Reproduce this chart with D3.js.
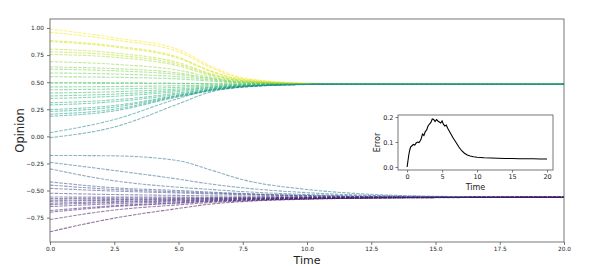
<!DOCTYPE html>
<html>
<head>
<meta charset="utf-8">
<script src="https://cdn.jsdelivr.net/npm/d3@7"></script>
<style>
  body { margin: 0; background: #fff; }
  text { font-family: "DejaVu Sans", sans-serif; fill: #222; }
  .axis path, .axis line { stroke: #555; stroke-width: 0.8; }
  .axis text { font-size: 5.8px; }
</style>
</head>
<body>
<svg id="chart" width="598" height="266"></svg>
<script>
'use strict';

// sample times for every trajectory
let times = [0, 2.5, 5, 6.25, 7.5, 10, 12.5, 15, 20];

// opinions that end up near +0.48
let upperGroup = [
  [0.99, 0.91, 0.80, 0.65, 0.54, 0.49, 0.482, 0.481, 0.481],
  [0.96, 0.89, 0.78, 0.635, 0.535, 0.489, 0.482, 0.481, 0.481],
  [0.885, 0.835, 0.73, 0.605, 0.525, 0.487, 0.482, 0.481, 0.481],
  [0.875, 0.825, 0.72, 0.60, 0.522, 0.487, 0.482, 0.481, 0.481],
  [0.805, 0.77, 0.68, 0.58, 0.515, 0.486, 0.482, 0.481, 0.481],
  [0.78, 0.75, 0.665, 0.572, 0.512, 0.485, 0.482, 0.481, 0.481],
  [0.756, 0.73, 0.65, 0.563, 0.51, 0.485, 0.482, 0.481, 0.481],
  [0.69, 0.665, 0.61, 0.548, 0.504, 0.484, 0.481, 0.481, 0.481],
  [0.64, 0.625, 0.585, 0.537, 0.5, 0.483, 0.481, 0.481, 0.481],
  [0.62, 0.605, 0.57, 0.531, 0.497, 0.482, 0.481, 0.481, 0.481],
  [0.585, 0.575, 0.55, 0.521, 0.494, 0.482, 0.481, 0.481, 0.481],
  [0.55, 0.545, 0.53, 0.51, 0.49, 0.481, 0.481, 0.481, 0.481],
  [0.497, 0.495, 0.49, 0.486, 0.483, 0.481, 0.481, 0.481, 0.481],
  [0.49, 0.489, 0.487, 0.484, 0.482, 0.481, 0.481, 0.481, 0.481],
  [0.456, 0.46, 0.467, 0.473, 0.478, 0.481, 0.481, 0.481, 0.481],
  [0.43, 0.437, 0.452, 0.465, 0.474, 0.48, 0.481, 0.481, 0.481],
  [0.40, 0.412, 0.437, 0.457, 0.471, 0.48, 0.481, 0.481, 0.481],
  [0.373, 0.39, 0.425, 0.452, 0.469, 0.48, 0.481, 0.481, 0.481],
  [0.35, 0.37, 0.414, 0.447, 0.467, 0.48, 0.481, 0.481, 0.481],
  [0.31, 0.337, 0.40, 0.44, 0.464, 0.479, 0.481, 0.481, 0.481],
  [0.29, 0.32, 0.39, 0.436, 0.462, 0.479, 0.481, 0.481, 0.481],
  [0.247, 0.285, 0.38, 0.43, 0.46, 0.479, 0.481, 0.481, 0.481],
  [0.23, 0.27, 0.375, 0.427, 0.458, 0.479, 0.481, 0.481, 0.481],
  [0.204, 0.25, 0.37, 0.422, 0.456, 0.479, 0.481, 0.481, 0.481],
  [0.185, 0.235, 0.365, 0.419, 0.455, 0.479, 0.481, 0.481, 0.481],
  [0.034, 0.155, 0.35, 0.43, 0.462, 0.479, 0.481, 0.481, 0.481],
  [-0.012, 0.086, 0.30, 0.41, 0.455, 0.478, 0.481, 0.481, 0.481]
];

// opinions that end up near -0.56
let lowerGroup = [
  [-0.176, -0.18, -0.225, -0.31, -0.40, -0.49, -0.535, -0.553, -0.562],
  [-0.24, -0.315, -0.395, -0.44, -0.475, -0.52, -0.545, -0.556, -0.562],
  [-0.30, -0.41, -0.47, -0.49, -0.51, -0.537, -0.552, -0.559, -0.563],
  [-0.42, -0.475, -0.50, -0.515, -0.527, -0.546, -0.556, -0.561, -0.563],
  [-0.45, -0.49, -0.512, -0.523, -0.532, -0.549, -0.557, -0.561, -0.563],
  [-0.48, -0.505, -0.522, -0.53, -0.538, -0.551, -0.558, -0.562, -0.563],
  [-0.525, -0.537, -0.545, -0.549, -0.552, -0.557, -0.56, -0.562, -0.563],
  [-0.56, -0.561, -0.561, -0.562, -0.562, -0.563, -0.563, -0.563, -0.563],
  [-0.575, -0.572, -0.57, -0.568, -0.567, -0.565, -0.564, -0.563, -0.563],
  [-0.59, -0.583, -0.577, -0.573, -0.57, -0.567, -0.565, -0.564, -0.563],
  [-0.60, -0.59, -0.582, -0.577, -0.573, -0.568, -0.565, -0.564, -0.563],
  [-0.617, -0.602, -0.59, -0.583, -0.577, -0.57, -0.566, -0.564, -0.563],
  [-0.63, -0.61, -0.595, -0.587, -0.58, -0.571, -0.566, -0.564, -0.563],
  [-0.648, -0.622, -0.603, -0.592, -0.584, -0.573, -0.567, -0.564, -0.563],
  [-0.685, -0.64, -0.612, -0.598, -0.588, -0.575, -0.568, -0.565, -0.563],
  [-0.70, -0.648, -0.617, -0.601, -0.59, -0.576, -0.568, -0.565, -0.563],
  [-0.768, -0.68, -0.632, -0.61, -0.596, -0.578, -0.569, -0.565, -0.563],
  [-0.88, -0.755, -0.665, -0.625, -0.602, -0.58, -0.57, -0.566, -0.563]
];

// inset: estimation error over time
let errTimes = [0, 0.1, 0.25, 0.4, 0.5, 0.7, 0.9, 1.1, 1.3, 1.5, 1.7, 1.9, 2.0, 2.2, 2.4, 2.6,
                2.8, 3.0, 3.2, 3.4, 3.6, 3.8, 4.0, 4.2, 4.4, 4.6, 4.8, 5.0, 5.2, 5.4, 5.6,
                5.8, 6.0, 6.3, 6.6, 7.0, 7.4, 7.8, 8.2, 8.6, 9.0, 9.5, 10, 11, 12, 13, 14,
                15, 16, 17, 18, 19, 20];
let errValues = [0, 0.02, 0.05, 0.07, 0.08, 0.085, 0.09, 0.088, 0.096, 0.1, 0.098, 0.106, 0.112,
                 0.132, 0.126, 0.142, 0.148, 0.165, 0.172, 0.178, 0.192, 0.19, 0.182, 0.19, 0.184,
                 0.18, 0.176, 0.184, 0.17, 0.164, 0.168, 0.155, 0.145, 0.13, 0.115, 0.098, 0.08,
                 0.065, 0.055, 0.048, 0.044, 0.041, 0.039, 0.037, 0.036, 0.035, 0.034, 0.034,
                 0.033, 0.033, 0.033, 0.032, 0.032];

let xTicks = [0, 2.5, 5, 7.5, 10, 12.5, 15, 17.5, 20],
    yTicks = [-0.75, -0.5, -0.25, 0, 0.25, 0.5, 0.75, 1.0],
    insetXTicks = [0, 5, 10, 15, 20],
    insetYTicks = [0, 0.1, 0.2];

var svg = d3.select("#chart"),
    plot = {left: 50, right: 564, top: 19, bottom: 242},
    inset = {left: 398, right: 553, top: 115, bottom: 170};

var x = d3.scaleLinear().domain([0, 20]).range([plot.left, plot.right]),
    y = d3.scaleLinear().domain([-0.975, 1.083]).range([plot.bottom, plot.top]);

var allLines = upperGroup.concat(lowerGroup),
    starts = allLines.map(function(d) { return d[0]; }),
    color = d3.scaleSequential(d3.interpolateViridis).domain(d3.extent(starts));

var line = d3.line()
    .x(function(d, i) { return x(times[i]); })
    .y(function(d) { return y(d); })
    .curve(d3.curveMonotoneX);

// trajectories
svg.append("g")
  .selectAll("path")
    .data(allLines)
  .enter().append("path")
    .attr("d", line)
    .attr("fill", "none")
    .attr("stroke", function(d) { return color(d[0]); })
    .attr("stroke-width", 1.1)
    .attr("stroke-dasharray", "3.5,1.2")
    .attr("stroke-opacity", 0.55);

// frame
svg.append("rect")
    .attr("x", plot.left).attr("y", plot.top)
    .attr("width", plot.right - plot.left).attr("height", plot.bottom - plot.top)
    .attr("fill", "none").attr("stroke", "#555").attr("stroke-width", 0.8);

svg.append("g")
    .attr("class", "axis")
    .attr("transform", "translate(0," + plot.bottom + ")")
    .call(d3.axisBottom(x).tickValues(xTicks).tickFormat(d3.format(".1f")).tickSize(3).tickPadding(2))
    .call(function(g) { g.select(".domain").remove(); });

svg.append("g")
    .attr("class", "axis")
    .attr("transform", "translate(" + plot.left + ",0)")
    .call(d3.axisLeft(y).tickValues(yTicks).tickFormat(d3.format(".2f")).tickSize(3).tickPadding(3))
    .call(function(g) { g.select(".domain").remove(); });

svg.append("text")
    .attr("x", 307)
    .attr("y", 264)
    .attr("text-anchor", "middle")
    .style("font-size", "11px")
    .text("Time");

svg.append("text")
    .attr("transform", "translate(24," + ((plot.top + plot.bottom) / 2) + ") rotate(-90)")
    .attr("text-anchor", "middle")
    .style("font-size", "11.5px")
    .text("Opinion");

// inset
var ix = d3.scaleLinear().domain([-1.3, 20.85]).range([inset.left, inset.right]),
    iy = d3.scaleLinear().domain([-0.012, 0.208]).range([inset.bottom, inset.top]);

var ig = svg.append("g");

ig.append("rect")
    .attr("x", inset.left).attr("y", inset.top)
    .attr("width", inset.right - inset.left).attr("height", inset.bottom - inset.top)
    .attr("fill", "#fff").attr("stroke", "#555").attr("stroke-width", 0.8);

ig.append("path")
    .datum(errValues)
    .attr("d", d3.line()
      .x(function(d, i) { return ix(errTimes[i]); })
      .y(function(d) { return iy(d); }))
    .attr("fill", "none")
    .attr("stroke", "#000")
    .attr("stroke-width", 1.1);

ig.append("g")
    .attr("class", "axis")
    .attr("transform", "translate(0," + inset.bottom + ")")
    .call(d3.axisBottom(ix).tickValues(insetXTicks).tickFormat(d3.format("d")).tickSize(2.5).tickPadding(2))
    .call(function(g) { g.select(".domain").remove(); });

ig.append("g")
    .attr("class", "axis")
    .attr("transform", "translate(" + inset.left + ",0)")
    .call(d3.axisLeft(iy).tickValues(insetYTicks).tickFormat(d3.format(".1f")).tickSize(2.5).tickPadding(2))
    .call(function(g) { g.select(".domain").remove(); });

ig.selectAll(".axis text").style("font-size", "6.5px");

ig.append("text")
    .attr("x", (inset.left + inset.right) / 2)
    .attr("y", 190)
    .attr("text-anchor", "middle")
    .style("font-size", "8px")
    .text("Time");

ig.append("text")
    .attr("transform", "translate(380," + ((inset.top + inset.bottom) / 2) + ") rotate(-90)")
    .attr("text-anchor", "middle")
    .style("font-size", "8px")
    .text("Error");
</script>
</body>
</html>
